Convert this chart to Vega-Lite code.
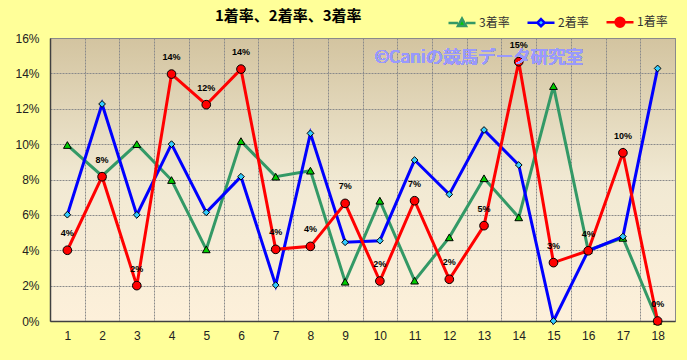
{
  "$schema": "https://vega.github.io/schema/vega-lite/v6.json",
  "width": 625,
  "height": 283,
  "autosize": {"type": "none"},
  "padding": {"left": 50, "top": 38, "right": 12, "bottom": 39},
  "background": "#FFFF99",
  "title": {
    "text": "1着率、2着率、3着率",
    "font": "Noto Sans CJK JP",
    "fontSize": 15,
    "fontWeight": "bold",
    "color": "#000000",
    "anchor": "start",
    "dx": 200,
    "offset": 4,
    "dy": 21
  },
  "config": {
    "view": {
      "stroke": "#8a8a8a",
      "strokeWidth": 1,
      "fill": {
        "gradient": "linear",
        "x1": 0, "y1": 0, "x2": 0, "y2": 1,
        "stops": [
          {"offset": 0, "color": "#D3C4A0"},
          {"offset": 0.5, "color": "#F1E9D3"},
          {"offset": 1, "color": "#FDF0DA"}
        ]
      }
    },
    "axis": {
      "labelFont": "Liberation Sans",
      "labelFontSize": 12,
      "labelColor": "#222222",
      "gridColor": "#8a8a8a",
      "gridDash": [2, 1],
      "gridWidth": 1,
      "gridOpacity": 1,
      "domainColor": "#404040",
      "domainWidth": 1.5,
      "ticks": false,
      "title": null
    }
  },
  "data": {
    "values": [
      {"n": 1, "s": "3着率", "v": 0.0995},
      {"n": 2, "s": "3着率", "v": 0.082},
      {"n": 3, "s": "3着率", "v": 0.100},
      {"n": 4, "s": "3着率", "v": 0.0797},
      {"n": 5, "s": "3着率", "v": 0.0405},
      {"n": 6, "s": "3着率", "v": 0.1017},
      {"n": 7, "s": "3着率", "v": 0.0816},
      {"n": 8, "s": "3着率", "v": 0.085},
      {"n": 9, "s": "3着率", "v": 0.0222},
      {"n": 10, "s": "3着率", "v": 0.068},
      {"n": 11, "s": "3着率", "v": 0.0228},
      {"n": 12, "s": "3着率", "v": 0.0473},
      {"n": 13, "s": "3着率", "v": 0.0807},
      {"n": 14, "s": "3着率", "v": 0.0586},
      {"n": 15, "s": "3着率", "v": 0.1328},
      {"n": 16, "s": "3着率", "v": 0.040},
      {"n": 17, "s": "3着率", "v": 0.047},
      {"n": 18, "s": "3着率", "v": 0.0},
      {"n": 1, "s": "2着率", "v": 0.0601},
      {"n": 2, "s": "2着率", "v": 0.1227},
      {"n": 3, "s": "2着率", "v": 0.060},
      {"n": 4, "s": "2着率", "v": 0.100},
      {"n": 5, "s": "2着率", "v": 0.0614},
      {"n": 6, "s": "2着率", "v": 0.0816},
      {"n": 7, "s": "2着率", "v": 0.0203},
      {"n": 8, "s": "2着率", "v": 0.1061},
      {"n": 9, "s": "2着率", "v": 0.0445},
      {"n": 10, "s": "2着率", "v": 0.0454},
      {"n": 11, "s": "2着率", "v": 0.091},
      {"n": 12, "s": "2着率", "v": 0.0716},
      {"n": 13, "s": "2着率", "v": 0.108},
      {"n": 14, "s": "2着率", "v": 0.0882},
      {"n": 15, "s": "2着率", "v": 0.0},
      {"n": 16, "s": "2着率", "v": 0.0397},
      {"n": 17, "s": "2着率", "v": 0.0477},
      {"n": 18, "s": "2着率", "v": 0.1428},
      {"n": 1, "s": "1着率", "v": 0.040},
      {"n": 2, "s": "1着率", "v": 0.0816},
      {"n": 3, "s": "1着率", "v": 0.020},
      {"n": 4, "s": "1着率", "v": 0.1396},
      {"n": 5, "s": "1着率", "v": 0.1223},
      {"n": 6, "s": "1着率", "v": 0.1424},
      {"n": 7, "s": "1着率", "v": 0.0405},
      {"n": 8, "s": "1着率", "v": 0.0422},
      {"n": 9, "s": "1着率", "v": 0.0665},
      {"n": 10, "s": "1着率", "v": 0.0226},
      {"n": 11, "s": "1着率", "v": 0.068},
      {"n": 12, "s": "1着率", "v": 0.0236},
      {"n": 13, "s": "1着率", "v": 0.0539},
      {"n": 14, "s": "1着率", "v": 0.1466},
      {"n": 15, "s": "1着率", "v": 0.033},
      {"n": 16, "s": "1着率", "v": 0.0397},
      {"n": 17, "s": "1着率", "v": 0.0951},
      {"n": 18, "s": "1着率", "v": 0.0}
    ]
  },
  "encoding": {
    "x": {
      "field": "n",
      "type": "ordinal",
      "bandPosition": 0.5,
      "scale": {"type": "band", "paddingInner": 0, "paddingOuter": 0},
      "axis": {"labelAngle": 0, "tickBand": "extent", "grid": true, "labelPadding": 9, "domain": true}
    },
    "y": {
      "field": "v",
      "type": "quantitative",
      "scale": {"domain": [0, 0.16], "nice": false, "zero": true},
      "axis": {"format": ".0%", "values": [0, 0.02, 0.04, 0.06, 0.08, 0.1, 0.12, 0.14, 0.16], "labelPadding": 11, "grid": true}
    }
  },
  "layer": [
    {
      "mark": {"type": "line", "strokeWidth": 3},
      "encoding": {
        "stroke": {
          "field": "s",
          "type": "nominal",
          "scale": {"domain": ["3着率", "2着率", "1着率"], "range": ["#339966", "#0000FF", "#FF0000"]},
          "legend": {
            "title": null,
            "orient": "none",
            "legendX": 397,
            "legendY": -31,
            "direction": "horizontal",
            "columnPadding": 12,
            "labelOffset": 2,
            "labelFont": "Noto Sans CJK JP",
            "labelFontSize": 12,
            "labelColor": "#333333",
            "symbolSize": 729,
            "symbolStrokeWidth": 2.5,
            "symbolOpacity": 1,
            "symbolType": "M-1,0L1,0",
            "encode": {
              "symbols": {
                "update": {
                  "shape": {"signal": "datum.value == '3着率' ? 'M-1,0L-0.3,0M0.3,0L1,0M-0.3,0.24L0.3,0.24L0,-0.32Z' : datum.value == '2着率' ? 'M-1,0L-0.27,0M0.27,0L1,0M0,-0.27L0.27,0L0,0.27L-0.27,0Z' : 'M-1,0L-0.33,0M0.33,0L1,0M-0.33,0A0.33,0.33,0,1,0,0.33,0A0.33,0.33,0,1,0,-0.33,0Z'"},
                  "fill": {"signal": "datum.value == '3着率' ? '#00CC00' : datum.value == '2着率' ? '#33CCFF' : '#FF0000'"},
                  "strokeWidth": {"value": 2.5},
                  "fillOpacity": {"value": 1},
                  "opacity": {"value": 1}
                }
              }
            }
          }
        }
      }
    },
    {
      "transform": [{"filter": "datum.s == '3着率'"}],
      "mark": {"type": "point", "shape": "triangle-up", "size": 60, "filled": true, "fill": "#00CC00", "stroke": "#000000", "strokeWidth": 1, "opacity": 1}
    },
    {
      "transform": [{"filter": "datum.s == '2着率'"}],
      "mark": {"type": "point", "shape": "diamond", "size": 45, "filled": true, "fill": "#33CCFF", "stroke": "#000000", "strokeWidth": 1, "opacity": 1}
    },
    {
      "transform": [{"filter": "datum.s == '1着率'"}],
      "mark": {"type": "point", "shape": "circle", "size": 75, "filled": true, "fill": "#FF0000", "stroke": "#000000", "strokeWidth": 1, "opacity": 1}
    },
    {
      "transform": [{"filter": "datum.s == '1着率'"}],
      "mark": {"type": "text", "font": "Liberation Sans", "fontSize": 9, "fontWeight": "bold", "color": "#000000", "dy": -17},
      "encoding": {
        "text": {"field": "v", "type": "quantitative", "format": ".0%"}
      }
    },
    {
      "mark": {"type": "text", "font": "Noto Sans CJK JP", "fontSize": 17.5, "fontWeight": "normal", "color": "#9999FF", "opacity": 0.85, "dx": -5, "baseline": "middle"},
      "encoding": {
        "x": {"datum": 13, "type": "ordinal", "bandPosition": 0.5},
        "y": {"datum": 0.1487, "type": "quantitative"},
        "text": {"value": "©Caniの競馬データ研究室"}
      }
    }
  ]
}
